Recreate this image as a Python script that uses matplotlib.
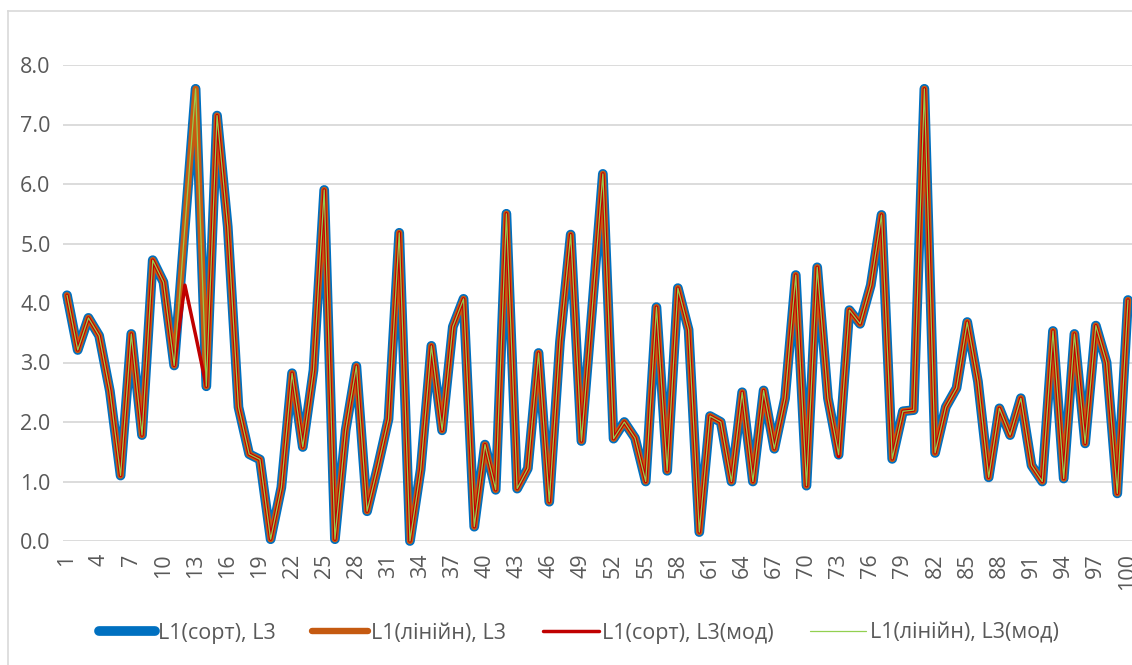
import numpy as np
import matplotlib
matplotlib.use("Agg")
import matplotlib.pyplot as plt
from matplotlib.lines import Line2D

plt.rcParams['font.family'] = ['Open Sans', 'DejaVu Sans']

# номери точок 1..100
x_idx = np.arange(1, 101)

# L1(сорт), L3
l1_sort_l3 = [4.13, 3.21, 3.75, 3.45, 2.52, 1.10, 3.48, 1.78, 4.72, 4.35,
              2.95, 5.28, 7.60, 2.60, 7.15, 5.28, 2.25, 1.46, 1.37, 0.03,
              0.90, 2.82, 1.58, 2.87, 5.90, 0.03, 1.86, 2.94, 0.50, 1.25,
              2.05, 5.18, 0.00, 1.20, 3.28, 1.86, 3.60, 4.07, 0.24, 1.62,
              0.86, 5.50, 0.88, 1.22, 3.16, 0.66, 3.35, 5.15, 1.68, 3.90,
              6.17, 1.72, 2.00, 1.73, 1.00, 3.93, 1.18, 4.25, 3.55, 0.15,
              2.10, 2.00, 1.00, 2.50, 1.00, 2.53, 1.55, 2.40, 4.47, 0.93,
              4.60, 2.40, 1.45, 3.88, 3.65, 4.30, 5.48, 1.38, 2.18, 2.20,
              7.60, 1.48, 2.25, 2.57, 3.68, 2.68, 1.07, 2.23, 1.78, 2.40,
              1.27, 1.00, 3.53, 1.05, 3.48, 1.64, 3.62, 3.00, 0.80, 4.05]

# L1(лінійн), L3 -- same curve on the picture
l1_lin_l3 = list(l1_sort_l3)

# L1(сорт), L3(мод) -- differs at points 12..13
l1_sort_l3mod = [4.13, 3.21, 3.75, 3.45, 2.52, 1.10, 3.48, 1.78, 4.72, 4.35,
                 2.95, 4.30, 3.46, 2.60, 7.15, 5.28, 2.25, 1.46, 1.37, 0.03,
                 0.90, 2.82, 1.58, 2.87, 5.90, 0.03, 1.86, 2.94, 0.50, 1.25,
                 2.05, 5.18, 0.00, 1.20, 3.28, 1.86, 3.60, 4.07, 0.24, 1.62,
                 0.86, 5.50, 0.88, 1.22, 3.16, 0.66, 3.35, 5.15, 1.68, 3.90,
                 6.17, 1.72, 2.00, 1.73, 1.00, 3.93, 1.18, 4.25, 3.55, 0.15,
                 2.10, 2.00, 1.00, 2.50, 1.00, 2.53, 1.55, 2.40, 4.47, 0.93,
                 4.60, 2.40, 1.42, 3.88, 3.65, 4.30, 5.48, 1.38, 2.18, 2.20,
                 7.60, 1.48, 2.25, 2.57, 3.68, 2.68, 1.07, 2.23, 1.78, 2.40,
                 1.27, 1.00, 3.53, 1.05, 3.48, 1.64, 3.62, 3.00, 0.80, 4.05]

# L1(лінійн), L3(мод)
l1_lin_l3mod = list(l1_sort_l3)

series = [
    (l1_sort_l3, 'L1(сорт), L3', '#0070C0', 7.0),
    (l1_lin_l3, 'L1(лінійн), L3', '#C55A11', 4.6),
    (l1_sort_l3mod, 'L1(сорт), L3(мод)', '#C00000', 2.5),
    (l1_lin_l3mod, 'L1(лінійн), L3(мод)', '#92D050', 0.9),
]

W, H = 1132, 665
fig = plt.figure(figsize=(W / 100, H / 100), dpi=100)
ax = fig.add_axes([63 / W, (H - 541) / H, (W - 63) / W, (541 - 65) / H])

for vals, name, col, lw in series:
    ax.plot(x_idx, vals, color=col, lw=lw, label=name, clip_on=False,
            solid_joinstyle='round', solid_capstyle='round')

ax.set_ylim(0, 8)
ax.set_xlim(0.627, 100.373)
ax.set_yticks(np.arange(0, 9, 1))
ax.set_yticklabels([f'{v:.1f}' for v in np.arange(0, 9, 1)])
ax.set_xticks(x_idx[::3])
ax.set_xticklabels([str(v) for v in x_idx[::3]], rotation=90)

ax.grid(axis='y', color='#d9d9d9', lw=1.3)
ax.set_axisbelow(True)
for s in ax.spines.values():
    s.set_visible(False)
ax.tick_params(axis='both', length=0, labelsize=15.5, labelcolor='#595959')
ax.tick_params(axis='y', pad=9)
ax.tick_params(axis='x', pad=9)

# рамка області діаграми (обрізана праворуч і знизу)
fig.add_artist(Line2D([8 / W, 8 / W], [0, (H - 11) / H], color='#d9d9d9', lw=1.2))
fig.add_artist(Line2D([8 / W, 1], [(H - 11) / H, (H - 11) / H], color='#d9d9d9', lw=1.2))

fig.legend(loc='center', bbox_to_anchor=(0.511, 0.048), ncol=4, frameon=False,
           fontsize=15.5, labelcolor='#595959', handlelength=2.6,
           handletextpad=0.15, columnspacing=1.7)

fig.savefig('out.png', dpi=100)
